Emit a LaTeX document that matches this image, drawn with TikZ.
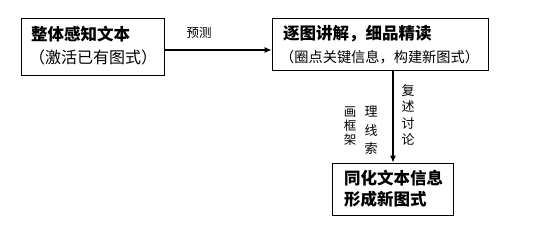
\documentclass[tikz,border=0pt]{standalone}
\usepackage{fontspec}
\setmainfont{Noto Sans CJK SC}
\usetikzlibrary{arrows.meta}
\begin{document}
\begin{tikzpicture}[x=1pt,y=-1pt,
  box/.style={draw,line width=0.9pt,inner sep=0pt},
  conn/.style={draw,line width=1.1pt,-{Latex[length=7pt,width=6pt]}},
  lbl/.style={font=\fontsize{12.5}{14}\selectfont,inner sep=0pt},
  vlbl/.style={inner sep=0pt,align=center}]
\useasboundingbox (0,0) rectangle (552,236);
\node[box,minimum width=143pt,minimum height=57pt] (a) at (92.5,46.5) {};
\node[anchor=west,font=\fontsize{16.5}{18}\selectfont\bfseries,inner sep=0pt] (a1) at (31,34) {整体感知文本};
\node[anchor=west,font=\fontsize{16}{18}\selectfont,inner sep=0pt] (a2) at (29,57) {（激活已有图式）};
\node[box,minimum width=216pt,minimum height=52pt] (b) at (380,44) {};
\node[anchor=west,font=\fontsize{16.5}{18}\selectfont\bfseries,inner sep=0pt] (b1) at (283,34) {逐图讲解，细品精读};
\node[anchor=west,font=\fontsize{14.2}{16}\selectfont,inner sep=0pt] (b2) at (280,57) {（圈点关键信息，构建新图式）};
\node[box,minimum width=121pt,minimum height=52pt] (c) at (392.5,189) {};
\node[anchor=west,font=\fontsize{16.5}{21}\selectfont\bfseries,inner sep=0pt,align=left] (c1) at (344,189) {同化文本信息\\形成新图式};
\node[lbl] (p) at (199,33) {预测};
\draw[conn] (a.east |- 0,50) coordinate (s1) -- (s1 -| b.west);
\draw[conn] (b.south -| 393,0) coordinate (s2) -- (s2 |- c.north);
\node[vlbl,anchor=north,font=\fontsize{13}{16.5}\selectfont] (v1) at (408,84) {复\\述\\讨\\论};
\node[vlbl,anchor=north,font=\fontsize{13}{18.5}\selectfont] (v2) at (371,106) {理\\线\\索};
\node[vlbl,anchor=north,font=\fontsize{12.5}{14}\selectfont] (v3) at (350,107) {画\\框\\架};
\end{tikzpicture}
\end{document}
